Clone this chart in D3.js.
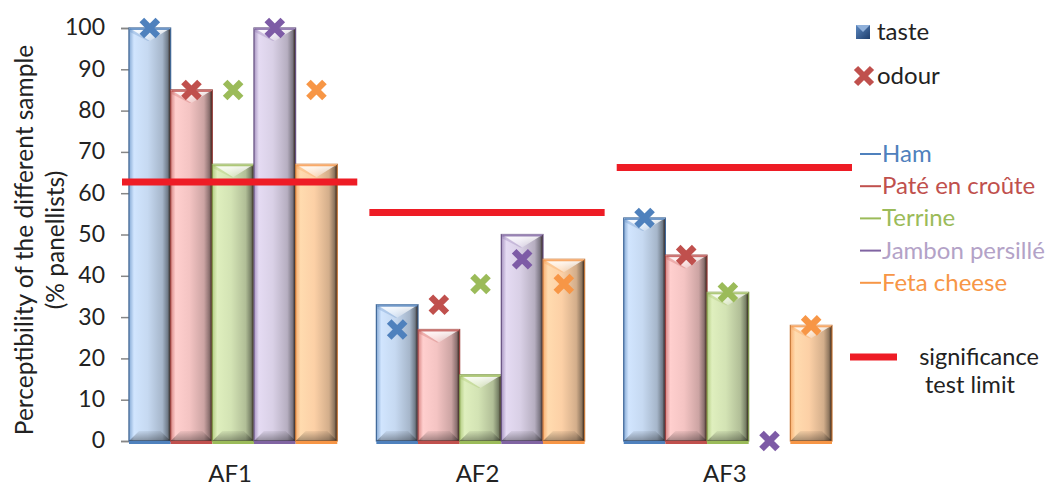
<!DOCTYPE html>
<html><head><meta charset="utf-8">
<script src="https://cdn.jsdelivr.net/npm/d3@7"></script>
<style>body{margin:0;background:#fff}svg{display:block;font-family:Lato,"Open Sans",sans-serif}</style>
</head><body><svg id="c" width="1053" height="486"></svg>
<script>
const categories = ["AF1", "AF2", "AF3"];
const seriesNames = ["Ham", "Paté en croûte", "Terrine", "Jambon persillé", "Feta cheese"];
const tasteHam = [100, 33, 54];
const tastePate = [85, 27, 45];
const tasteTerrine = [67, 16, 36];
const tasteJambon = [100, 50, 0];
const tasteFeta = [67, 44, 28];
const odourHam = [100, 27, 54];
const odourPate = [85, 33, 45];
const odourTerrine = [85, 38, 36];
const odourJambon = [100, 44, 0];
const odourFeta = [85, 38, 28];
const significance = [62.7, 55.3, 66.2];
const yTicks = [0, 10, 20, 30, 40, 50, 60, 70, 80, 90, 100];

const edgeColors = ["#4f81bd", "#c0504d", "#9bbb59", "#8064a2", "#f79646"];
const fillColors = ["#c6d9f1", "#f4c4c3", "#d3e3b4", "#d9d0e6", "#fcd0a6"];
const textColors = ["#4f81bd", "#c0504d", "#9bbb59", "#b3a2c7", "#f79646"];
const markerColors = ["#4f81bd", "#c0504d", "#9bbb59", "#7d5ba6", "#f79646"];

const tasteSeries = [tasteHam, tastePate, tasteTerrine, tasteJambon, tasteFeta];
const odourSeries = [odourHam, odourPate, odourTerrine, odourJambon, odourFeta];

const svg = d3.select("#c");
const y = d3.scaleLinear().domain([0, 100]).range([441, 28]);
const x0 = d3.scaleBand().domain(categories).range([129, 832]).paddingInner(0.158).paddingOuter(0);
const x1 = d3.scaleBand().domain(d3.range(seriesNames.length)).range([0, x0.bandwidth()]);

const defs = svg.append("defs");
seriesNames.forEach((s, i) => {
  const g = defs.append("linearGradient").attr("id", "g" + i).attr("x1", 0).attr("x2", 1).attr("y1", 0).attr("y2", 0);
  const c = d3.color(fillColors[i]);
  g.append("stop").attr("offset", 0).attr("stop-color", d3.interpolateRgb(edgeColors[i], fillColors[i])(0.45));
  g.append("stop").attr("offset", 0.12).attr("stop-color", c.brighter(0.15));
  g.append("stop").attr("offset", 0.45).attr("stop-color", fillColors[i]);
  g.append("stop").attr("offset", 0.8).attr("stop-color", c.darker(0.5));
  g.append("stop").attr("offset", 0.93).attr("stop-color", c.darker(1.6));
  g.append("stop").attr("offset", 1).attr("stop-color", "#2a1a10");
});
const tg = defs.append("linearGradient").attr("id", "topg").attr("x1", 0).attr("x2", 0).attr("y1", 0).attr("y2", 1);
tg.append("stop").attr("offset", 0).attr("stop-color", "#fff").attr("stop-opacity", 0.95);
tg.append("stop").attr("offset", 1).attr("stop-color", "#fff").attr("stop-opacity", 0.25);
const bg = defs.append("linearGradient").attr("id", "botg").attr("x1", 0).attr("x2", 0).attr("y1", 0).attr("y2", 1);
bg.append("stop").attr("offset", 0).attr("stop-color", "#000").attr("stop-opacity", 0.05);
bg.append("stop").attr("offset", 1).attr("stop-color", "#000").attr("stop-opacity", 0.35);

// y axis
const yAxis = d3.axisLeft(y).tickValues(yTicks).tickSize(8).tickPadding(16);
const ga = svg.append("g").attr("transform", "translate(129,0)").call(yAxis);
ga.attr("font-size", null).attr("font-family", null);
ga.select(".domain").attr("stroke", "#868686").attr("stroke-width", 1.5);
ga.selectAll(".tick line").attr("stroke", "#868686").attr("stroke-width", 1.5);
ga.selectAll(".tick text").attr("font-size", 23).attr("fill", "#222").attr("dy", "0.3em");

// axis title
const yt = svg.append("text").attr("transform", "translate(33,240) rotate(-90)").attr("text-anchor", "middle")
  .attr("font-size", 24.5).attr("fill", "#222");
yt.append("tspan").attr("x", 0).attr("dy", 0).text("Perceptibility of the different sample");
yt.append("tspan").attr("x", 0).attr("dy", 31).text("(% panellists)");

// category labels
svg.append("g").selectAll("text").data(categories).join("text")
  .attr("x", d => x0(d) + x0.bandwidth() / 2 - 3).attr("y", 482).attr("text-anchor", "middle")
  .attr("font-size", 24).attr("fill", "#222").text(d => d);

// bars
const barData = [];
categories.forEach((c, ci) => seriesNames.forEach((s, si) => barData.push({c, ci, si, v: tasteSeries[si][ci], o: odourSeries[si][ci]})));
const bars = svg.append("g").selectAll("g").data(barData).join("g")
  .attr("transform", d => `translate(${x0(d.c) + x1(d.si)},0)`);
const bw = x1.bandwidth();
bars.filter(d => d.v > 0).each(function(d) {
  const g = d3.select(this);
  const top = y(d.v), bot = y(0), h = bot - top;
  g.append("rect").attr("x", 0).attr("y", top).attr("width", bw).attr("height", h)
    .attr("fill", `url(#g${d.si})`).attr("stroke", d3.color(edgeColors[d.si]).darker(0.6)).attr("stroke-width", 1.2);
  const b = Math.min(13, h / 2);
  g.append("path").attr("d", `M0,${top}L${bw},${top}L${bw / 2},${top + b}Z`).attr("fill", "url(#topg)");
  g.append("path").attr("d", `M1,${top}L${bw / 2},${top + b}L${bw / 2 - 2},${top + b}L1,${top + 4}Z`).attr("fill", edgeColors[d.si]).attr("opacity", 0.25);
  g.append("path").attr("d", `M0,${bot}L${bw},${bot}L${bw - 10},${bot - 10}L10,${bot - 10}Z`).attr("fill", "url(#botg)");
  g.append("rect").attr("x", 1).attr("y", top).attr("width", bw - 2).attr("height", 2).attr("fill", edgeColors[d.si]).attr("opacity", 0.8);
});
// base strips
bars.filter(d => d.v > 0).append("rect").attr("x", 0).attr("y", y(0)).attr("width", bw).attr("height", 3).attr("fill", d => edgeColors[d.si]);

// significance lines
svg.append("g").selectAll("line").data(categories).join("line")
  .attr("x1", d => x0(d) - 7).attr("x2", d => x0(d) + x0.bandwidth() + 20)
  .attr("y1", (d, i) => y(significance[i])).attr("y2", (d, i) => y(significance[i]))
  .attr("stroke", "#ee1c25").attr("stroke-width", 7);

// odour markers
const xPath = "M-8,-8L8,8M8,-8L-8,8";
bars.append("path").attr("d", xPath).attr("transform", d => `translate(${bw / 2},${y(d.o)})`)
  .attr("stroke", d => markerColors[d.si]).attr("stroke-width", 6.5).attr("fill", "none");

// legend
const lg = svg.append("g");
const tg2 = defs.append("linearGradient").attr("id", "tasteg").attr("x1", 0).attr("x2", 1).attr("y1", 0).attr("y2", 1);
tg2.append("stop").attr("offset", 0).attr("stop-color", "#5b87c0");
tg2.append("stop").attr("offset", 1).attr("stop-color", "#1f3f6d");
lg.append("rect").attr("x", 856).attr("y", 25).attr("width", 14).attr("height", 14).attr("fill", "url(#tasteg)");
lg.append("path").attr("d", "M856,25L870,25L863,32Z").attr("fill", "#8fb0da");
lg.append("text").attr("x", 877).attr("y", 40).attr("font-size", 24).attr("fill", "#222").text("taste");
lg.append("path").attr("d", xPath).attr("transform", "translate(864,76)").attr("stroke", "#c0504d").attr("stroke-width", 6).attr("fill", "none");
lg.append("text").attr("x", 877).attr("y", 84).attr("font-size", 24).attr("fill", "#222").text("odour");

const sl = lg.append("g").selectAll("g").data(seriesNames).join("g")
  .attr("transform", (d, i) => `translate(860,${154 + i * 32.2})`);
sl.append("line").attr("x1", 0).attr("x2", 21).attr("y1", 0).attr("y2", 0).attr("stroke", (d, i) => edgeColors[i]).attr("stroke-width", 2);
sl.append("text").attr("x", 22).attr("y", 8).attr("font-size", 24).attr("fill", (d, i) => textColors[i]).text(d => d);

lg.append("line").attr("x1", 850).attr("x2", 897).attr("y1", 357).attr("y2", 357).attr("stroke", "#ee1c25").attr("stroke-width", 7);
lg.append("text").attr("x", 979).attr("y", 365).attr("text-anchor", "middle").attr("font-size", 23.5).attr("fill", "#222").text("significance");
lg.append("text").attr("x", 970).attr("y", 393).attr("text-anchor", "middle").attr("font-size", 23.5).attr("fill", "#222").text("test limit");
</script></body></html>
